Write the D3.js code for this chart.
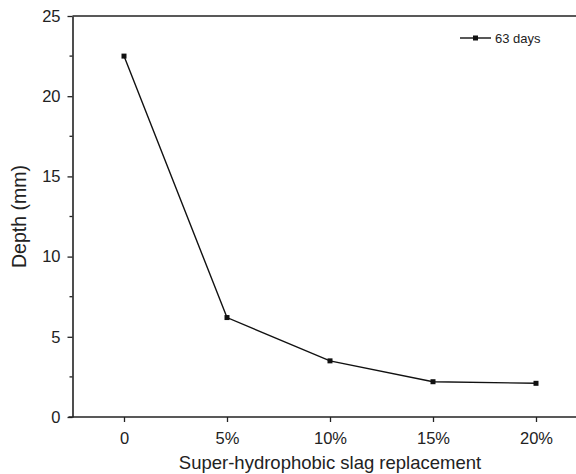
<!DOCTYPE html>
<html>
<head>
<meta charset="utf-8">
<script src="https://cdn.jsdelivr.net/npm/d3@7"></script>
<style>
  body { margin: 0; background: #fff; }
  svg { font-family: "Liberation Sans", Arial, sans-serif; }
</style>
</head>
<body>
<div id="chart"></div>
<script>
// Data
const categories = ['0', '5%', '10%', '15%', '20%'];
const depth = [22.5, 6.2, 3.5, 2.2, 2.1];
const yTicks = [0, 5, 10, 15, 20, 25];
const yMinorTicks = [2.5, 7.5, 12.5, 17.5, 22.5];
const seriesName = '63 days';

const W = 576, H = 474;
const margin = { top: 16, right: 0, bottom: 57, left: 72.5 };

const svg = d3.select('#chart')
    .append('svg')
    .attr('width', W)
    .attr('height', H);

// x: categories 103px apart, plot continues past the right edge
const step = 103;
const x = d3.scalePoint()
    .domain(categories)
    .range([margin.left + step / 2, margin.left + step / 2 + step * (categories.length - 1)]);

const y = d3.scaleLinear()
    .domain([0, 25])
    .range([H - margin.bottom, margin.top]);

const ink = '#222';

// top border spanning to the edge
svg.append('line')
    .attr('x1', margin.left).attr('x2', W)
    .attr('y1', y(25)).attr('y2', y(25))
    .attr('stroke', ink).attr('stroke-width', 1.6);

// y axis
const yAxis = svg.append('g')
    .attr('transform', `translate(${margin.left},0)`)
    .call(d3.axisLeft(y).tickValues(yTicks).tickSize(5).tickPadding(7).tickSizeOuter(0));

svg.append('g')
    .selectAll('line')
    .data(yMinorTicks)
    .join('line')
    .attr('x1', margin.left - 3).attr('x2', margin.left)
    .attr('y1', d => y(d)).attr('y2', d => y(d))
    .attr('stroke', ink).attr('stroke-width', 1.3);

// x axis
const xAxis = svg.append('g')
    .attr('transform', `translate(0,${y(0)})`)
    .call(d3.axisBottom(x).tickSize(5).tickPadding(10).tickSizeOuter(0));

xAxis.select('.domain').attr('d', `M${margin.left - 4},0H${W}`);

[yAxis, xAxis].forEach(g => {
    g.select('.domain').attr('stroke', ink).attr('stroke-width', 1.6);
    g.selectAll('.tick line').attr('stroke', ink).attr('stroke-width', 1.3);
    g.selectAll('.tick text')
        .attr('fill', '#222')
        .style('font-size', '16.5px')
        .style('font-family', '"Liberation Sans", Arial, sans-serif');
});

// axis titles
svg.append('text')
    .attr('x', 330)
    .attr('y', 469)
    .attr('text-anchor', 'middle')
    .attr('fill', '#222')
    .style('font-size', '18.5px')
    .text('Super-hydrophobic slag replacement');

svg.append('text')
    .attr('transform', `translate(26,${(y(0) + y(25)) / 2}) rotate(-90)`)
    .attr('text-anchor', 'middle')
    .attr('fill', '#222')
    .style('font-size', '19.5px')
    .text('Depth (mm)');

// line series
const line = d3.line()
    .x((d, i) => x(categories[i]))
    .y(d => y(d));

svg.append('path')
    .datum(depth)
    .attr('d', line)
    .attr('fill', 'none')
    .attr('stroke', '#111')
    .attr('stroke-width', 1.4);

svg.append('g')
    .selectAll('rect')
    .data(depth)
    .join('rect')
    .attr('x', (d, i) => x(categories[i]) - 2.5)
    .attr('y', d => y(d) - 2.5)
    .attr('width', 5)
    .attr('height', 5)
    .attr('fill', '#111');

// legend
const lg = svg.append('g').attr('transform', 'translate(460,38)');
lg.append('line')
    .attr('x1', 0).attr('x2', 31)
    .attr('stroke', '#111').attr('stroke-width', 1.4);
lg.append('rect')
    .attr('x', 13).attr('y', -2.5)
    .attr('width', 5).attr('height', 5)
    .attr('fill', '#111');
lg.append('text')
    .attr('x', 35)
    .attr('y', 4.5)
    .attr('fill', '#222')
    .style('font-size', '13px')
    .text(seriesName);
</script>
</body>
</html>
